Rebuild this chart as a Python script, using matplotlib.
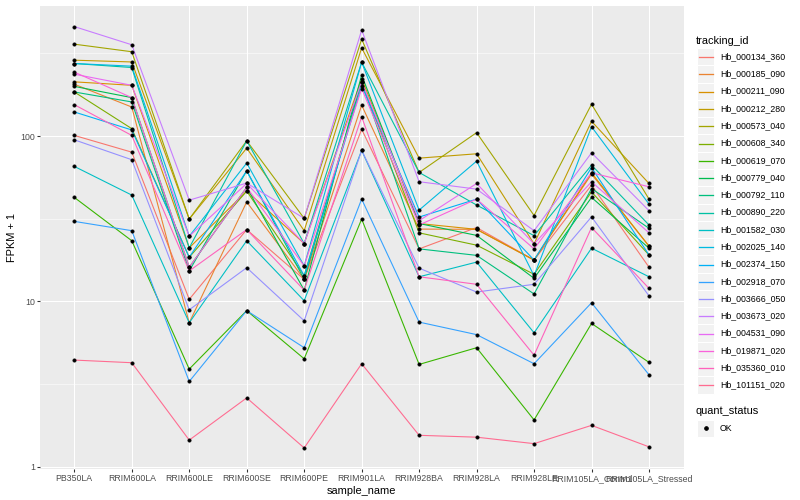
import numpy as np
import matplotlib
matplotlib.use("Agg")
import matplotlib.pyplot as plt
from matplotlib.patches import Rectangle
from matplotlib.lines import Line2D
from matplotlib.ticker import FixedLocator, NullFormatter

plt.rcParams['font.family'] = ['Liberation Sans', 'DejaVu Sans']

samples = ["PB350LA", "RRIM600LA", "RRIM600LE", "RRIM600SE", "RRIM600PE",
           "RRIM901LA", "RRIM928BA", "RRIM928LA", "RRIM928LE",
           "RRIM105LA_Control", "RRIM105LA_Stressed"]

tracking_ids = ["Hb_000134_360", "Hb_000185_090", "Hb_000211_090", "Hb_000212_280",
                "Hb_000573_040", "Hb_000608_340", "Hb_000619_070", "Hb_000779_040",
                "Hb_000792_110", "Hb_000890_220", "Hb_001582_030", "Hb_002025_140",
                "Hb_002374_150", "Hb_002918_070", "Hb_003666_050", "Hb_003673_020",
                "Hb_004531_090", "Hb_019871_020", "Hb_035360_010", "Hb_101151_020"]

colors = ["#F8766D", "#EA8331", "#D89000", "#C09B00", "#A3A500", "#7CAE00",
          "#39B600", "#00BB4E", "#00BF7D", "#00C1A3", "#00BFC4", "#00BAE0",
          "#00B0F6", "#35A2FF", "#9590FF", "#C77CFF", "#E76BF3", "#FA62DB",
          "#FF62BC", "#FF6C91"]

# FPKM + 1 per tracking id, in sample order
Hb_000134_360 = [101, 80, 10.3, 27.2, 13.6, 110, 20.8, 28, 17.8, 50.6, 16.1]
Hb_000185_090 = [206, 150, 7.43, 40, 13.6, 154, 27.4, 27.3, 17.8, 58.9, 21.6]
Hb_000211_090 = [213, 203, 21.1, 46.5, 22.4, 223, 29.6, 27.3, 17.8, 60, 21.6]
Hb_000212_280 = [288, 281, 31.5, 84.6, 26.8, 342, 73.6, 78.2, 22.3, 123, 51.7]
Hb_000573_040 = [360, 324, 31.5, 93.7, 31.8, 386, 60.3, 105, 33.1, 156, 41.6]
Hb_000608_340 = [185, 111, 18.5, 46.5, 14.3, 213, 26, 21.9, 14.6, 46, 19.1]
Hb_000619_070 = [42.6, 23.3, 3.9, 8.8, 4.5, 31.5, 4.16, 5.25, 1.92, 7.36, 4.28]
Hb_000779_040 = [200, 171, 16.1, 49, 11.7, 234, 29.6, 25.1, 13.8, 42.6, 21]
Hb_000792_110 = [185, 161, 15.3, 61.7, 13.6, 213, 20.8, 19, 11.1, 48.2, 27.7]
Hb_000890_220 = [275, 260, 21.1, 93.7, 22.4, 280, 60.3, 38.3, 25, 66.8, 29]
Hb_001582_030 = [65.6, 44, 7.43, 23.3, 10.1, 82, 14.1, 17.3, 6.46, 21, 14.1]
Hb_002025_140 = [275, 265, 24.8, 68.7, 16.4, 280, 35.7, 70.6, 14.3, 114, 38.8]
Hb_002374_150 = [140, 109, 18.5, 61.7, 14.3, 201, 32.4, 41.6, 17.8, 64.6, 19.1]
Hb_002918_070 = [30.5, 26.8, 3.28, 8.8, 5.25, 41.6, 7.5, 6.3, 4.2, 9.82, 3.6]
Hb_003666_050 = [95, 72, 8.9, 16, 7.64, 82, 15.9, 11.4, 12.7, 32.5, 10.8]
Hb_003673_020 = [460, 357, 41, 52, 31.8, 438, 53, 47.8, 26.8, 79.3, 35.4]
Hb_004531_090 = [237, 203, 24.8, 51.7, 22.4, 213, 30.8, 51.7, 22.3, 53, 26]
Hb_019871_020 = [244, 171, 16.1, 49, 16.4, 194, 29, 41.6, 20.8, 60, 49.4]
Hb_035360_010 = [155, 101, 15.3, 27.2, 11.7, 131, 14.1, 12.7, 4.73, 28, 12]
Hb_101151_020 = [4.42, 4.26, 1.45, 2.61, 1.30, 4.2, 1.55, 1.51, 1.38, 1.78, 1.32]

series = [Hb_000134_360, Hb_000185_090, Hb_000211_090, Hb_000212_280, Hb_000573_040,
          Hb_000608_340, Hb_000619_070, Hb_000779_040, Hb_000792_110, Hb_000890_220,
          Hb_001582_030, Hb_002025_140, Hb_002374_150, Hb_002918_070, Hb_003666_050,
          Hb_003673_020, Hb_004531_090, Hb_019871_020, Hb_035360_010, Hb_101151_020]

quant_levels = ["OK"]

W, H = 800, 500
fig = plt.figure(figsize=(W / 72, H / 72), dpi=72)
fig.patch.set_facecolor("white")

pl, pr, pt, pb = 39.8, 683.5, 5.5, 469.0
ax = fig.add_axes([pl / W, 1 - pb / H, (pr - pl) / W, (pb - pt) / H])
ax.set_facecolor("#EBEBEB")
for s in ax.spines.values():
    s.set_visible(False)

x = np.arange(len(samples))
for vals, c in zip(series, colors):
    ax.plot(x, vals, color=c, lw=1.1, zorder=3, solid_capstyle="butt")
for vals in series:
    ax.plot(x, vals, ls="none", marker="o", ms=3.6, mfc="black", mec="black",
            mew=0.3, zorder=4)

ax.set_yscale("log")
allv = np.log10(np.concatenate([np.array(v, float) for v in series]))
lo, hi = allv.min(), allv.max()
pad = 0.05 * (hi - lo)
ax.set_ylim(10 ** (lo - pad), 10 ** (hi + pad))
ax.set_xlim(-0.6, len(samples) - 1 + 0.6)

ax.yaxis.set_major_locator(FixedLocator([1, 10, 100]))
ax.set_yticklabels(["1", "10", "100"])
ax.yaxis.set_minor_locator(FixedLocator([10 ** 0.5, 10 ** 1.5, 10 ** 2.5]))
ax.yaxis.set_minor_formatter(NullFormatter())
ax.set_xticks(x)
ax.set_xticklabels(samples)

ax.tick_params(axis="both", which="major", length=2.75, width=1.07, color="#333333",
               labelsize=8.8, labelcolor="#4D4D4D", pad=2.2)
ax.tick_params(axis="y", which="minor", length=0)
ax.grid(True, which="major", axis="both", color="white", lw=1.07, zorder=0)
ax.grid(True, which="minor", axis="y", color="white", lw=0.53, zorder=0)
ax.set_axisbelow(True)

ax.set_xlabel("sample_name", fontsize=11, color="black", labelpad=2.75)
ax.set_ylabel("FPKM + 1", fontsize=11, color="black", labelpad=2.75)

# Legends (drawn in pixel coordinates)
lg = fig.add_axes([0, 0, 1, 1], facecolor="none")
lg.set_xlim(0, W)
lg.set_ylim(H, 0)
lg.axis("off")

kx, kw = 697.0, 17.28
lg.text(kx - 1, 40.5, "tracking_id", fontsize=11, va="center", ha="left", color="black")
y0 = 48.0
for i, (name, c) in enumerate(zip(tracking_ids, colors)):
    yy = y0 + i * kw
    lg.add_patch(Rectangle((kx, yy), kw, kw, facecolor="#F2F2F2", edgecolor="white",
                           lw=1.0, zorder=1))
    ly = np.floor(yy + kw / 2) + 0.5
    lg.add_line(Line2D([kx + 1.7, kx + kw - 1.7], [ly, ly], color=c, lw=1.3, zorder=3))
    lg.text(kx + kw + 5.5, yy + kw / 2, name, fontsize=8.8, va="center", ha="left", color="black")

lg.text(kx - 1, 411.5, "quant_status", fontsize=11, va="center", ha="left", color="black")
yy = 419.5
for q in quant_levels:
    lg.add_patch(Rectangle((kx, yy), kw, kw, facecolor="#F2F2F2", edgecolor="white",
                           lw=1.0, zorder=1))
    lg.add_line(Line2D([kx + kw / 2], [yy + kw / 2], ls="none", marker="o", ms=3.6,
                       mfc="black", mec="black", zorder=3))
    lg.text(kx + kw + 5.5, yy + kw / 2, q, fontsize=8.8, va="center", ha="left", color="black")
    yy += kw

fig.savefig("out.png", dpi=72)
